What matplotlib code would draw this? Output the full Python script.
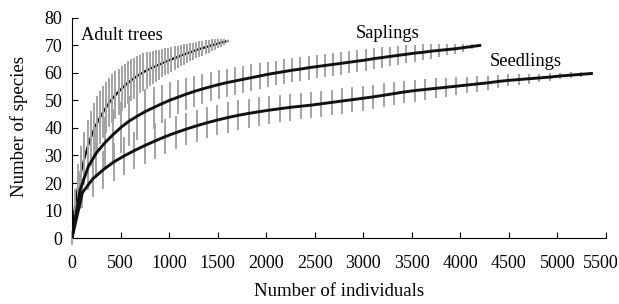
import matplotlib
matplotlib.use("Agg")
import matplotlib.pyplot as plt
import matplotlib.transforms as mtransforms

plt.rcParams['font.family'] = ['Liberation Serif', 'DejaVu Serif']

# ---------------- data ----------------
adult_x = [0, 32, 64, 96, 128, 160, 192, 224, 256, 288, 320, 352, 384, 416, 448, 480,
           512, 544, 576, 608, 640, 672, 704, 736, 768, 800, 832, 864, 896, 928, 960,
           992, 1024, 1056, 1088, 1120, 1152, 1184, 1216, 1248, 1280, 1312, 1344, 1376,
           1408, 1440, 1472, 1504, 1536, 1568, 1600]
adult_y = [0, 12, 19, 24.5, 29, 33, 36.3, 39.2, 41.7, 43.8, 45.7, 47.5, 49.2, 50.7, 52, 53.2,
           54.3, 55.4, 56.4, 57.3, 58.1, 58.9, 59.6, 60.3, 60.9, 61.5, 62, 62.5, 63, 63.5, 64,
           64.5, 64.9, 65.4, 65.8, 66.3, 66.7, 67.1, 67.5, 67.9, 68.3, 68.7, 69, 69.4,
           69.7, 70.1, 70.4, 70.7, 71, 71.3, 71.6]
adult_err = [2.5, 6, 8, 9, 9.6, 10, 10, 10, 9.8, 9.6, 9.4, 9.2, 9, 8.8, 8.6, 8.4,
             8.2, 8, 7.8, 7.6, 7.4, 7.2, 7.0, 6.8, 6.6, 6.3, 6.0, 5.7, 5.4, 5.1, 4.9,
             4.7, 4.5, 4.3, 4.1, 3.9, 3.7, 3.5, 3.3, 3.1, 3.0, 2.9, 2.7, 2.5,
             2.3, 2.1, 1.9, 1.7, 1.4, 1.0, 0.5]

sap_x = [0, 84, 168, 252, 336, 420, 504, 588, 672, 756, 840, 924, 1008, 1092, 1176, 1260,
         1344, 1428, 1512, 1596, 1680, 1764, 1848, 1932, 2016, 2100, 2184, 2268, 2352,
         2436, 2520, 2604, 2688, 2772, 2856, 2940, 3024, 3108, 3192, 3276, 3360, 3444,
         3528, 3612, 3696, 3780, 3864, 3948, 4032, 4116, 4200]
sap_y = [0, 17.5, 26, 31, 34.5, 37.5, 40.2, 42.5, 44.3, 46, 47.4, 48.8, 50.1, 51.2, 52.3,
         53.3, 54.2, 55, 55.8, 56.5, 57.1, 57.7, 58.3, 58.9, 59.5, 60, 60.5, 61, 61.4,
         61.9, 62.3, 62.7, 63.1, 63.5, 63.9, 64.3, 64.7, 65.2, 65.6, 66, 66.4, 66.8,
         67.2, 67.5, 67.9, 68.2, 68.5, 68.8, 69.2, 69.6, 70]
sap_err = [0, 7, 8.5, 9.2, 9.5, 9.5, 9.3, 9, 8.6, 8.2, 7.6, 7.0, 6.5, 6.1, 5.8, 5.6,
           5.4, 5.3, 5.2, 5.1, 5.0, 4.9, 4.8, 4.7, 4.6, 4.5, 4.4, 4.4, 4.3,
           4.3, 4.2, 4.2, 4.1, 4.1, 4.0, 4.0, 3.9, 3.8, 3.7, 3.6, 3.5, 3.3,
           3.1, 2.9, 2.7, 2.4, 2.1, 1.8, 1.4, 1.0, 0.5]

seed_x = [0, 107, 214, 321, 428, 535, 642, 749, 856, 963, 1070, 1177, 1284, 1391, 1498,
          1605, 1712, 1819, 1926, 2033, 2140, 2247, 2354, 2461, 2568, 2675, 2782, 2889,
          2996, 3103, 3210, 3317, 3424, 3531, 3638, 3745, 3852, 3959, 4066, 4173, 4280,
          4387, 4494, 4601, 4708, 4815, 4922, 5029, 5136, 5243, 5350]
seed_y = [0, 16.5, 21.5, 24.8, 27.6, 29.8, 31.8, 33.6, 35.3, 36.9, 38.3, 39.6, 40.8, 41.9,
          42.9, 43.8, 44.6, 45.3, 45.9, 46.5, 47, 47.5, 47.9, 48.3, 48.8, 49.3, 49.8, 50.3,
          50.8, 51.3, 51.9, 52.5, 53.1, 53.6, 54, 54.4, 54.8, 55.2, 55.6, 56, 56.4,
          56.9, 57.3, 57.6, 57.9, 58.2, 58.5, 58.9, 59.2, 59.5, 59.8]
seed_err = [0, 5.5, 6.5, 7, 7, 7, 6.8, 6.6, 6.4, 6.2, 6.0, 5.9, 5.8, 5.7, 5.6,
            5.5, 5.4, 5.3, 5.2, 5.1, 5.0, 4.9, 4.8, 4.7, 4.7, 4.6, 4.6, 4.5,
            4.5, 4.4, 4.3, 4.2, 4.1, 4.0, 3.8, 3.6, 3.4, 3.2, 3.0, 2.8, 2.6,
            2.4, 2.2, 2.0, 1.8, 1.6, 1.4, 1.2, 1.0, 0.8, 0.5]

labels = ["Adult trees", "Saplings", "Seedlings"]
label_pos = [(515, 73.5), (3255, 74.5), (4676, 64)]

xticks = [0, 500, 1000, 1500, 2000, 2500, 3000, 3500, 4000, 4500, 5000, 5500]
yticks = [0, 10, 20, 30, 40, 50, 60, 70, 80]

# ---------------- plot ----------------
fig = plt.figure(figsize=(6.19, 3.04), dpi=100)
ax = fig.add_axes([0.1163, 0.217, 0.979 - 0.1163, 0.941 - 0.217])

gray = '#a3a3a3'
# adult trees: bars drawn over the line
ax.plot(adult_x, adult_y, color='#111111', lw=1.6, zorder=2)
eb = ax.errorbar(adult_x, adult_y, yerr=adult_err, fmt='none', ecolor=gray,
                 elinewidth=1.4, capsize=0, zorder=3)
for c in eb.lines[2]:
    c.set_clip_on(False)
for xs, ys, es in [(sap_x, sap_y, sap_err), (seed_x, seed_y, seed_err)]:
    ax.errorbar(xs, ys, yerr=es, fmt='none', ecolor=gray, elinewidth=1.4, capsize=0, zorder=2)
    ax.plot(xs, ys, color='#111111', lw=2.1, zorder=4)

for lab, (lx, ly) in zip(labels, label_pos):
    ax.text(lx, ly, lab, fontsize=13.3, ha='center', va='center')

ax.set_xlim(0, 5500)
ax.set_ylim(0, 80)
ax.set_xticks(xticks)
ax.set_yticks(yticks)
ax.tick_params(direction='in', length=4, width=0.8, labelsize=13)
ax.tick_params(axis='x', pad=12)
ax.tick_params(axis='y', pad=7)
for s in ['top', 'right']:
    ax.spines[s].set_visible(False)
for s in ['left', 'bottom']:
    ax.spines[s].set_linewidth(0.8)
ax.set_xlabel("Number of individuals", fontsize=13.5)
ax.set_ylabel("Number of species", fontsize=13.5)
ax.xaxis.set_label_coords(0.5, -0.205)
ax.yaxis.set_label_coords(-0.0833, 0.505)

fig.canvas.draw()
lab_last = ax.xaxis.get_major_ticks()[-1].label1
lab_last.set_transform(lab_last.get_transform() +
                       mtransforms.ScaledTranslation(-5 / 100, 0, fig.dpi_scale_trans))

fig.savefig("out.png", dpi=100)
